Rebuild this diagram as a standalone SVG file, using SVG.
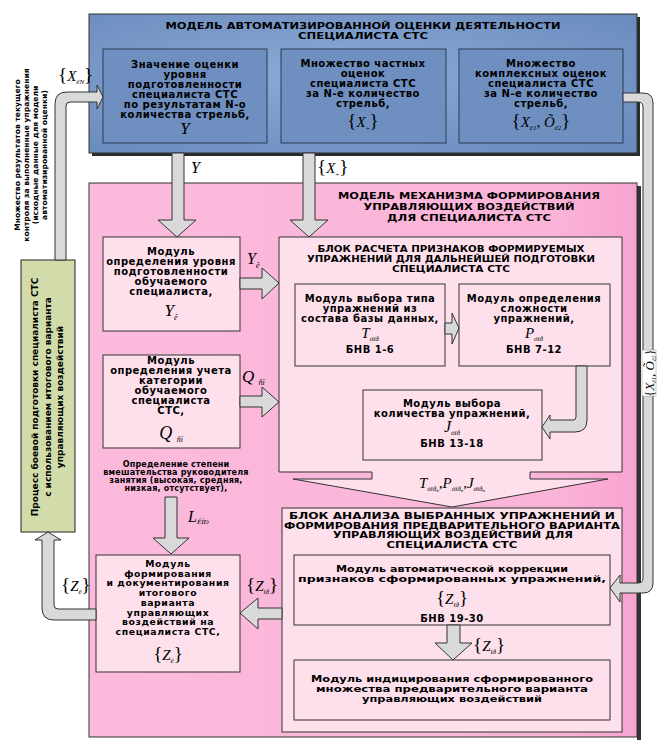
<svg xmlns="http://www.w3.org/2000/svg" width="659" height="740" viewBox="0 0 659 740">
<defs>
<radialGradient id="gBlue" cx="0.45" cy="0.45" r="0.7">
<stop offset="0" stop-color="#8dabd6"/><stop offset="1" stop-color="#6a8bbe"/>
</radialGradient>
<linearGradient id="gPink" x1="0" y1="0" x2="1" y2="0">
<stop offset="0" stop-color="#fbbadc"/><stop offset="0.85" stop-color="#fbb4d9"/><stop offset="1" stop-color="#f7a3cf"/>
</linearGradient>
<style>
.b{font-family:"DejaVu Sans",sans-serif;font-weight:bold;text-anchor:middle;fill:#000}
.f{font-size:10px;letter-spacing:0.5px}
.f2{font-size:9.3px;letter-spacing:0.6px}
.sm{font-size:8px;letter-spacing:0.2px}
.m{font-family:"Liberation Serif",serif;font-style:italic;fill:#000}
.mc{font-family:"Liberation Serif",serif;font-style:italic;fill:#000;text-anchor:middle}
.bx{stroke:#333;stroke-width:1}
.inb{fill:#6f8fc1;stroke:#2e3b52;stroke-width:1}
.pk{fill:#fde0ec;stroke:#333;stroke-width:1}
.ar{fill:#d9d9d9;stroke:#333;stroke-width:1}
</style>
</defs>
<rect width="659" height="740" fill="#fff"/>

<g id="model-top">
<rect x="92" y="17" width="548" height="139" fill="#2b2b2b"/>
<rect x="89" y="14" width="548" height="139" fill="url(#gBlue)" class="bx"/>
<text class="b" x="363" y="29" font-size="9" textLength="395" lengthAdjust="spacingAndGlyphs">МОДЕЛЬ АВТОМАТИЗИРОВАННОЙ ОЦЕНКИ ДЕЯТЕЛЬНОСТИ</text>
<text class="b" x="363" y="39" font-size="9" textLength="130" lengthAdjust="spacingAndGlyphs">СПЕЦИАЛИСТА СТС</text>
</g>

<g id="box-y">
<rect x="103" y="49" width="164" height="94" class="inb"/>
<text class="b f" x="185" y="68">Значение оценки</text>
<text class="b f" x="185" y="78">уровня</text>
<text class="b f" x="185" y="88">подготовленности</text>
<text class="b f" x="185" y="98">специалиста СТС</text>
<text class="b f" x="185" y="108">по результатам N-о</text>
<text class="b f" x="185" y="118">количества стрельб,</text>
<text class="mc" x="185" y="134" font-size="17">Y</text>
</g>

<g id="box-xch">
<rect x="281" y="49" width="165" height="94" class="inb"/>
<text class="b f" x="363" y="67">Множество частных</text>
<text class="b f" x="363" y="77">оценок</text>
<text class="b f" x="363" y="87">специалиста СТС</text>
<text class="b f" x="363" y="97">за N-е количество</text>
<text class="b f" x="363" y="107">стрельб,</text>
<text class="mc" x="363" y="127" font-size="15"><tspan font-size="19" font-style="normal">{</tspan>X<tspan font-size="7" dy="3">÷</tspan><tspan font-size="19" font-style="normal" dy="-3">}</tspan></text>
</g>

<g id="box-xk">
<rect x="459" y="49" width="164" height="94" class="inb"/>
<text class="b f" x="541" y="67">Множество</text>
<text class="b f" x="541" y="77">комплексных  оценок</text>
<text class="b f" x="541" y="87">специалиста СТС</text>
<text class="b f" x="541" y="97">за N-е количество</text>
<text class="b f" x="541" y="107">стрельб,</text>
<text class="mc" x="541" y="127" font-size="15"><tspan font-size="19" font-style="normal">{</tspan>X<tspan font-size="7" dy="3">ê1</tspan><tspan dy="-3">, Õ</tspan><tspan font-size="7" dy="3">ê2</tspan><tspan font-size="19" font-style="normal" dy="-3">}</tspan></text>
</g>

<g id="model-mech">
<rect x="637" y="186" width="4" height="554" fill="#333"/>
<rect x="89" y="183" width="548" height="554" fill="url(#gPink)" class="bx"/>
<text class="b" x="469" y="199" font-size="9.5" textLength="262" lengthAdjust="spacingAndGlyphs">МОДЕЛЬ МЕХАНИЗМА ФОРМИРОВАНИЯ</text>
<text class="b" x="469" y="210" font-size="9.5" textLength="211" lengthAdjust="spacingAndGlyphs">УПРАВЛЯЮЩИХ ВОЗДЕЙСТВИЙ</text>
<text class="b" x="469" y="221" font-size="9.5" textLength="164" lengthAdjust="spacingAndGlyphs">ДЛЯ СПЕЦИАЛИСТА СТС</text>
</g>

<g id="mod-level">
<rect x="103" y="237" width="137" height="94" class="pk"/>
<text class="b f" x="171" y="255">Модуль</text>
<text class="b f" x="171" y="265">определения уровня</text>
<text class="b f" x="171" y="275">подготовленности</text>
<text class="b f" x="171" y="285">обучаемого</text>
<text class="b f" x="171" y="295">специалиста,</text>
<text class="mc" x="171" y="316" font-size="17">Y<tspan font-size="8" dy="4">ê</tspan></text>
</g>

<g id="mod-category">
<rect x="103" y="355" width="137" height="93" class="pk"/>
<text class="b f" x="171" y="364">Модуль</text>
<text class="b f" x="171" y="374">определения учета</text>
<text class="b f" x="171" y="384">категории</text>
<text class="b f" x="171" y="394">обучаемого</text>
<text class="b f" x="171" y="404">специалиста</text>
<text class="b f" x="171" y="414">СТС,</text>
<text class="mc" x="171" y="439" font-size="18">Q <tspan font-size="8" dy="3">ñï</tspan></text>
</g>

<g id="intervention-text">
<text class="b sm" x="176" y="467">Определение степени</text>
<text class="b sm" x="176" y="475">вмешательства руководителя</text>
<text class="b sm" x="176" y="483">занятия (высокая, средняя,</text>
<text class="b sm" x="176" y="491">низкая, отсутствует),</text>
</g>

<g id="block-calc">
<path d="M279,237 H622 V472 H530 V479 H608 L452,507 L293,479 H372 V472 H279 Z" class="pk"/>
<text class="b" x="451" y="252" font-size="9" textLength="267" lengthAdjust="spacingAndGlyphs">БЛОК РАСЧЕТА ПРИЗНАКОВ ФОРМИРУЕМЫХ</text>
<text class="b" x="451" y="262" font-size="9" textLength="288" lengthAdjust="spacingAndGlyphs">УПРАЖНЕНИЙ ДЛЯ ДАЛЬНЕЙШЕЙ ПОДГОТОВКИ</text>
<text class="b" x="451" y="272" font-size="9" textLength="118" lengthAdjust="spacingAndGlyphs">СПЕЦИАЛИСТА СТС</text>
<text class="mc" x="452" y="488" font-size="15">T<tspan font-size="7" dy="3">óïð</tspan><tspan font-size="5" dy="1">n</tspan><tspan dy="-4">,P</tspan><tspan font-size="7" dy="3">óïð</tspan><tspan font-size="5" dy="1">n</tspan><tspan dy="-4">,J</tspan><tspan font-size="7" dy="3">óïð</tspan><tspan font-size="5" dy="1">n</tspan></text>
</g>

<g id="mod-type">
<rect x="295" y="284" width="150" height="82" class="pk"/>
<text class="b f" x="370" y="302">Модуль выбора типа</text>
<text class="b f" x="370" y="312">упражнений из</text>
<text class="b f" x="370" y="322">состава базы данных,</text>
<text class="mc" x="370" y="338" font-size="15">T<tspan font-size="7" dy="3">óïð</tspan></text>
<text class="b f" x="370" y="353">БНВ 1-6</text>
</g>

<g id="mod-complexity">
<rect x="459" y="284" width="151" height="82" class="pk"/>
<text class="b f" x="534" y="302">Модуль определения</text>
<text class="b f" x="534" y="312">сложности</text>
<text class="b f" x="534" y="322">упражнений,</text>
<text class="mc" x="534" y="338" font-size="15">P<tspan font-size="7" dy="3">óïð</tspan></text>
<text class="b f" x="534" y="353">БНВ 7-12</text>
</g>

<g id="mod-count">
<rect x="363" y="390" width="179" height="70" class="pk"/>
<text class="b f" x="452" y="407">Модуль выбора</text>
<text class="b f" x="452" y="417">количества упражнений,</text>
<text class="mc" x="452" y="432" font-size="16">J<tspan font-size="7" dy="3">óïð</tspan></text>
<text class="b f" x="452" y="447">БНВ 13-18</text>
</g>

<g id="block-analysis">
<rect x="282" y="508" width="340" height="224" class="pk"/>
<text class="b" x="452" y="519" font-size="8.6" textLength="326" lengthAdjust="spacingAndGlyphs">БЛОК АНАЛИЗА ВЫБРАННЫХ УПРАЖНЕНИЙ И</text>
<text class="b" x="452" y="528.5" font-size="8.6" textLength="336" lengthAdjust="spacingAndGlyphs">ФОРМИРОВАНИЯ ПРЕДВАРИТЕЛЬНОГО ВАРИАНТА</text>
<text class="b" x="453" y="538" font-size="8.6" textLength="240" lengthAdjust="spacingAndGlyphs">УПРАВЛЯЮЩИХ ВОЗДЕЙСТВИЙ ДЛЯ</text>
<text class="b" x="452" y="547.5" font-size="8.6" textLength="131" lengthAdjust="spacingAndGlyphs">СПЕЦИАЛИСТА СТС</text>
</g>

<g id="mod-correction">
<rect x="294" y="555" width="316" height="70" class="pk"/>
<text class="b" x="452" y="572" font-size="9.5" textLength="232" lengthAdjust="spacingAndGlyphs">Модуль автоматической коррекции</text>
<text class="b" x="452" y="582" font-size="9.5" textLength="308" lengthAdjust="spacingAndGlyphs">признаков сформированных упражнений,</text>
<text class="mc" x="452" y="604" font-size="15"><tspan font-size="19" font-style="normal">{</tspan>Z<tspan font-size="7" dy="3">ïð</tspan><tspan font-size="19" font-style="normal" dy="-3">}</tspan></text>
<text class="b f" x="452" y="622">БНВ 19-30</text>
</g>

<g id="mod-indication">
<rect x="294" y="660" width="316" height="60" class="pk"/>
<text class="b" x="452" y="682" font-size="9.5" textLength="282" lengthAdjust="spacingAndGlyphs">Модуль индицирования сформированного</text>
<text class="b" x="452" y="692" font-size="9.5" textLength="272" lengthAdjust="spacingAndGlyphs">множества предварительного варианта</text>
<text class="b" x="452" y="702" font-size="9.5" textLength="180" lengthAdjust="spacingAndGlyphs">управляющих воздействий</text>
</g>

<g id="mod-final">
<rect x="96" y="555" width="144" height="117" class="pk"/>
<text class="b f2" x="168" y="567">Модуль</text>
<text class="b f2" x="168" y="576.7">формирования</text>
<text class="b f2" x="168" y="586.4">и документирования</text>
<text class="b f2" x="168" y="596.1">итогового</text>
<text class="b f2" x="168" y="605.8">варианта</text>
<text class="b f2" x="168" y="615.5">управляющих</text>
<text class="b f2" x="168" y="625.2">воздействий  на</text>
<text class="b f2" x="168" y="635">специалиста СТС,</text>
<text class="mc" x="168" y="660" font-size="15"><tspan font-size="19" font-style="normal">{</tspan>Z<tspan font-size="7" dy="3">ê</tspan><tspan font-size="19" font-style="normal" dy="-3">}</tspan></text>
</g>

<g id="process">
<rect x="21" y="260" width="54" height="272" fill="#d2dcab" stroke="#222" stroke-width="1"/>
<g transform="translate(0,397) rotate(-90)">
<text class="b" x="0" y="38" font-size="9">Процесс боевой подготовки специалиста СТС</text>
<text class="b" x="0" y="50.5" font-size="9">с использованием итогового варианта</text>
<text class="b" x="0" y="63" font-size="9">управляющих воздействий</text>
</g>
</g>

<g id="connectors">
<path class="ar" d="M55,260 V104 Q55,92 67,92 H97 V85 L103,97 L97,109 V102 H70 Q66,102 66,106 V260 Z"/>
<path class="ar" d="M96,609 H58 Q54,609 54,605 V540 H61 L48,532 L35,540 H42 V608 Q42,620 54,620 H96 Z"/>
<path class="ar" d="M623,93 H643 Q653,93 653,103 V583 Q653,593 643,593 H620 V602 L610,588 L620,575 V583 H638 Q643,583 643,578 V107 Q643,102 638,102 H623 Z"/>
<path class="ar" d="M172,153 V220 H158 L177,237 L196,220 H184 V153 Z"/>
<path class="ar" d="M303,153 V220 H290 L309,237 L328,220 H315 V153 Z"/>
<path class="ar" d="M240,278 H262 V268 L279,283 L262,299 V289 H240 Z"/>
<path class="ar" d="M240,396 H262 V387 L279,402 L262,417 V407 H240 Z"/>
<path class="ar" d="M445,323 H452 V313 L459,328 L452,344 V334 H445 Z"/>
<path class="ar" d="M576,366 V417 Q576,420 573,420 H550 V415 L542,427 L550,439 V432 H575 Q587,432 587,420 V366 Z"/>
<path class="ar" d="M165,497 V538 H153 L171,554 L189,538 H177 V497 Z"/>
<path class="ar" d="M282,608 H258 V598 L240,613 L258,629 V619 H282 Z"/>
<path class="ar" d="M447,625 V643 H435 L453,660 L472,643 H460 V625 Z"/>
<rect x="642" y="350" width="14" height="46" fill="#fff" stroke="#999" stroke-width="0.5"/>
<g transform="translate(0,373) rotate(-90)">
<text class="mc" x="0" y="654" font-size="13"><tspan font-style="normal">{</tspan>X<tspan font-size="6" dy="2">ê1</tspan><tspan dy="-2">, Õ</tspan><tspan font-size="6" dy="2">ê2</tspan><tspan font-style="normal" dy="-2">}</tspan></text>
</g>
<text class="m" x="58" y="81" font-size="15"><tspan font-size="19" font-style="normal">{</tspan>X<tspan font-size="7" dy="3">ëN</tspan><tspan font-size="19" font-style="normal" dy="-3">}</tspan></text>
<text class="m" x="191" y="173" font-size="16">Y</text>
<text class="m" x="317" y="173" font-size="15"><tspan font-size="19" font-style="normal">{</tspan>X<tspan font-size="7" dy="3">÷</tspan><tspan font-size="19" font-style="normal" dy="-3">}</tspan></text>
<text class="m" x="247" y="264" font-size="16">Y<tspan font-size="8" dy="4">ê</tspan></text>
<text class="m" x="242" y="382" font-size="17">Q <tspan font-size="8" dy="3">ñï</tspan></text>
<text class="m" x="188" y="522" font-size="16">L<tspan font-size="7" dy="2">ÊÍÐ</tspan></text>
<text class="m" x="246" y="591" font-size="15"><tspan font-size="19" font-style="normal">{</tspan>Z<tspan font-size="7" dy="3">ïð</tspan><tspan font-size="19" font-style="normal" dy="-3">}</tspan></text>
<text class="m" x="61" y="591" font-size="15"><tspan font-size="19" font-style="normal">{</tspan>Z<tspan font-size="7" dy="3">ê</tspan><tspan font-size="19" font-style="normal" dy="-3">}</tspan></text>
<text class="m" x="473" y="651" font-size="15"><tspan font-size="19" font-style="normal">{</tspan>Z<tspan font-size="7" dy="3">ïð</tspan><tspan font-size="19" font-style="normal" dy="-3">}</tspan></text>
</g>

<g id="source-text" transform="translate(0,155) rotate(-90)">
<text class="b" x="0" y="20" font-size="7.6">Множество результатов текущего</text>
<text class="b" x="0" y="29" font-size="7.6">контроля за выполненные упражнения</text>
<text class="b" x="0" y="38" font-size="7.6">(исходные данные для модели</text>
<text class="b" x="0" y="47" font-size="7.6">автоматизированной оценки)</text>
</g>
</svg>
